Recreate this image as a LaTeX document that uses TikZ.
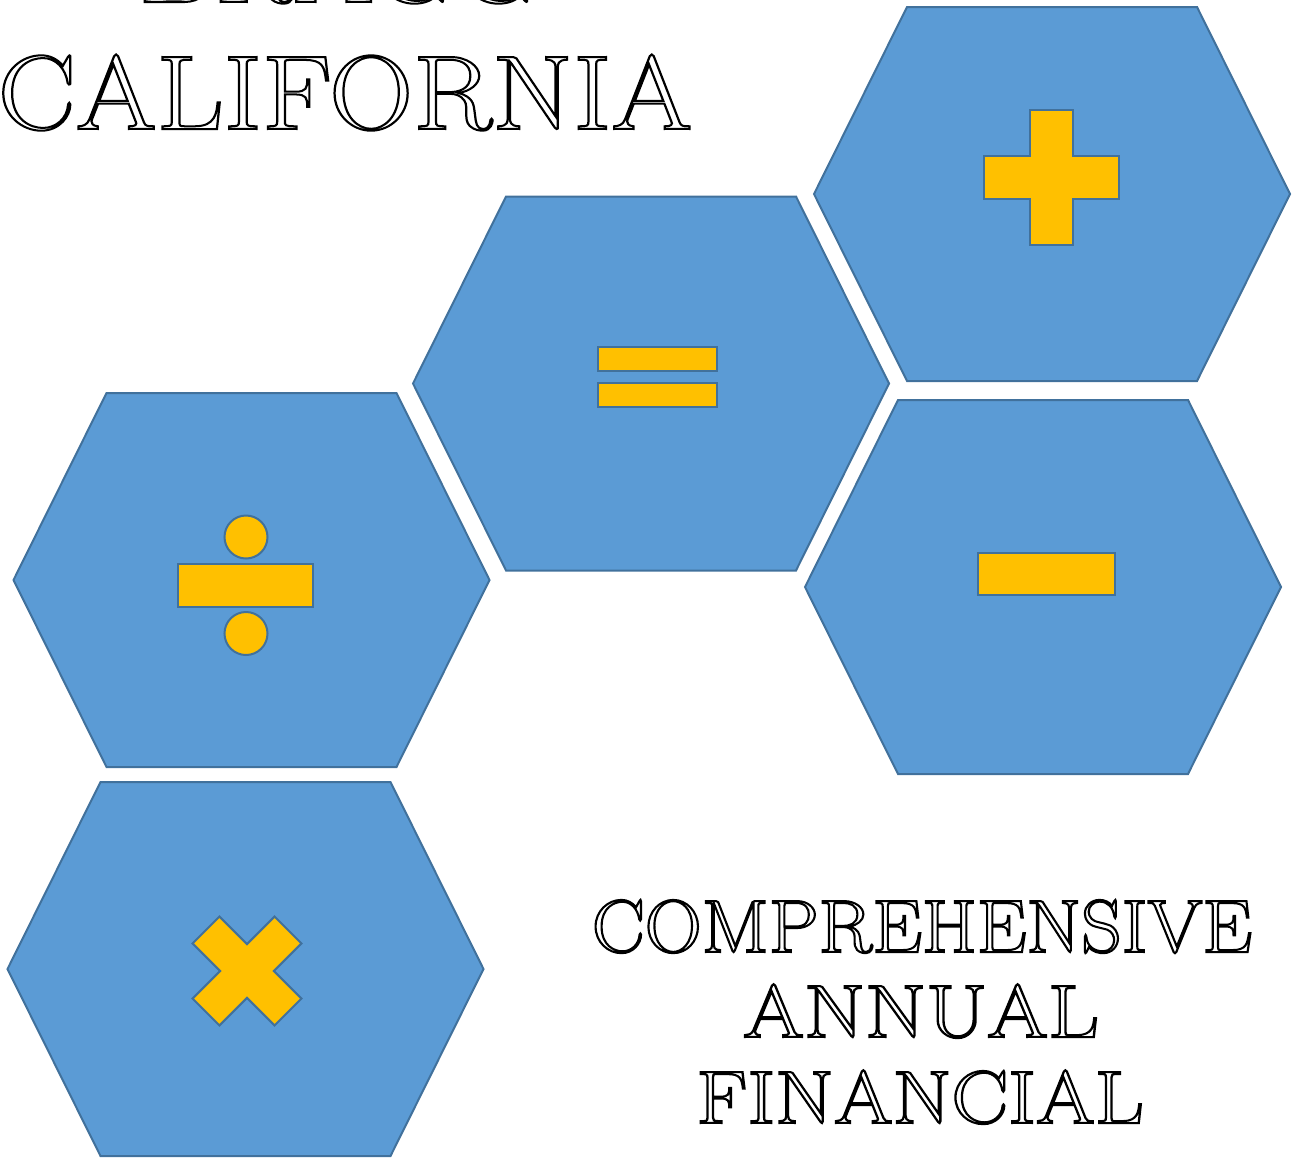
\documentclass[tikz,border=0pt]{standalone}
\usepackage{graphicx}

\definecolor{hexblue}{HTML}{5B9BD5}
\definecolor{hexedge}{HTML}{41719C}
\definecolor{signgold}{HTML}{FFC000}

% hollow capitals: stroke the glyph outlines only
\newcommand{\engraved}[2][1]{\scalebox{#1}[1]{\special{pdf:code 1 w 1 Tr}#2\special{pdf:code 0 Tr}}}

\begin{document}
\begin{tikzpicture}[x=0.5pt, y=-0.5pt,
    hexcell/.style={fill=hexblue, draw=hexedge, line width=1pt, line join=miter},
    sign/.style={fill=signgold, draw=hexedge, line width=1pt},
    bigtitle/.style={inner sep=0pt, anchor=base, font=\fontsize{52.7pt}{60pt}\selectfont},
    subtitle/.style={inner sep=0pt, anchor=base, font=\fontsize{37.3pt}{42pt}\selectfont}]

        \useasboundingbox (0,0) rectangle (1295,1157);

        % hexagons
        \foreach \cx/\cy in {1052/194, 651/383.5, 251.5/580, 1043/587, 245.5/969}
            \draw [hexcell] (\cx-238,\cy) -- (\cx-145,\cy-187) -- (\cx+145,\cy-187)
                -- (\cx+238,\cy) -- (\cx+145,\cy+187) -- (\cx-145,\cy+187) -- cycle;

        % plus
        \draw [sign] (1030,110) -- (1073,110) -- (1073,156) -- (1119,156) -- (1119,199)
            -- (1073,199) -- (1073,245) -- (1030,245) -- (1030,199) -- (984,199)
            -- (984,156) -- (1030,156) -- cycle;

        % equals
        \draw [sign] (598,347) rectangle (717,371);
        \draw [sign] (598,383) rectangle (717,407);

        % divide
        \draw [sign] (178,564) rectangle (313,607);
        \draw [sign] (246,537) circle [radius=21.5];
        \draw [sign] (246,633.5) circle [radius=21.5];

        % minus
        \draw [sign] (978,553) rectangle (1115,595);

        % times
        \draw [sign, shift={(247,971)}, rotate=45] (-19,-58) -- (19,-58) -- (19,-19)
            -- (58,-19) -- (58,19) -- (19,19) -- (19,58) -- (-19,58) -- (-19,19)
            -- (-58,19) -- (-58,-19) -- (-19,-19) -- cycle;

        % title
        \node [bigtitle] (bragg) at (339,2) {\engraved[1.10]{BRAGG}};
        \node [bigtitle] (california) at (345,129) {\engraved[1.106]{CALIFORNIA}};

        \node [subtitle] (comprehensive) at (922,952) {\engraved[1.06]{COMPREHENSIVE}};
        \node [subtitle] (annual) at (921,1037) {\engraved[1.18]{ANNUAL}};
        \node [subtitle] (financial) at (920,1123) {\engraved[1.137]{FINANCIAL}};

    \end{tikzpicture}
\end{document}
